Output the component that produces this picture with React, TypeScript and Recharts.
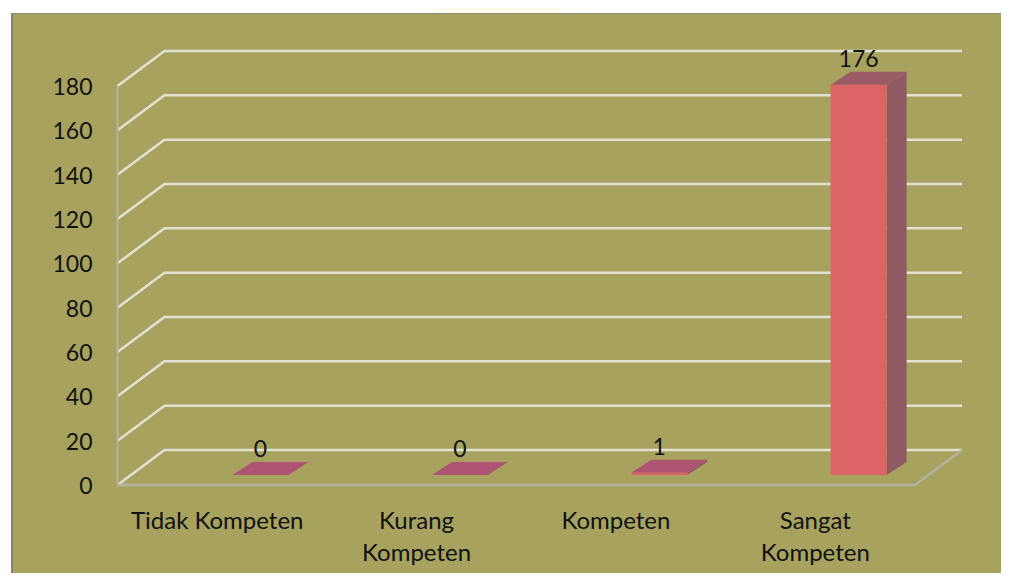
import { BarChart, Bar, XAxis, YAxis, CartesianGrid } from "recharts";

// kompetensi distribution
const categories = ["Tidak Kompeten", "Kurang Kompeten", "Kompeten", "Sangat Kompeten"];
const tickLines = [["Tidak Kompeten"], ["Kurang", "Kompeten"], ["Kompeten"], ["Sangat", "Kompeten"]];
const counts = [0, 0, 1, 176];
const yTicks = [0, 20, 40, 60, 80, 100, 120, 140, 160, 180];

const data = categories.map((name, i) => ({ name, value: counts[i], lines: tickLines[i] }));

const W = 1009;
const H = 581;
const FONT = "Lato, 'Open Sans', sans-serif";
const INK = "#111111";

// perspective offsets (back wall + bar depth)
const WALL_DX = 47;
const WALL_DY = -35;
const BAR_SHIFT_X = 43;
const BAR_SHIFT_Y = -10;
const BAR_DX = 20;
const BAR_DY = -13;

const GRID = "#e4e1d2";
const FLOOR = "#b3b39f";

function WallLine(props: any) {
  const { x1, x2, y1, index } = props;
  const bx = x1 + WALL_DX;
  const by = y1 + WALL_DY;
  return (
    <g key={`wall-${index}`}>
      <polyline
        points={`${x1},${y1} ${bx},${by} ${x2 + WALL_DX},${by}`}
        fill="none"
        stroke={GRID}
        strokeWidth={2.5}
      />
      {index === 0 && (
        <line x1={x2} y1={y1} x2={x2 + WALL_DX} y2={by} stroke={FLOOR} strokeWidth={2.5} />
      )}
    </g>
  );
}

function Box3D(props: any) {
  const { x, y, width, height, value } = props;
  const fx = x + BAR_SHIFT_X;
  const fy = y + BAR_SHIFT_Y;
  const h = Math.max(height || 0, 0);
  const base = fy + h;
  return (
    <g>
      <path
        d={`M${fx + width},${fy} L${fx + width + BAR_DX},${fy + BAR_DY} L${fx + width + BAR_DX},${base + BAR_DY} L${fx + width},${base} Z`}
        fill="#8f5b63"
      />
      <path
        d={`M${fx},${fy} L${fx + BAR_DX},${fy + BAR_DY} L${fx + width + BAR_DX},${fy + BAR_DY} L${fx + width},${fy} Z`}
        fill={h > 5 ? "#9a5a66" : "#ad5472"}
      />
      <rect x={fx} y={fy} width={width} height={h} fill="#dd6466" />
      <text
        x={fx + width / 2}
        y={fy + BAR_DY - 14}
        textAnchor="middle"
        dominantBaseline="central"
        fontSize={23}
        fontFamily={FONT}
        fill={INK}
      >
        {value}
      </text>
    </g>
  );
}

function YTick(props: any) {
  const { x, y, payload } = props;
  return (
    <text x={x} y={y} textAnchor="end" dominantBaseline="central" fontSize={23} fontFamily={FONT} fill={INK}>
      {payload.value}
    </text>
  );
}

function XTick(props: any) {
  const { x, y, index } = props;
  const lines = tickLines[index] || [];
  return (
    <text textAnchor="middle" fontSize={24} fontFamily={FONT} fill={INK}>
      {lines.map((l, i) => (
        <tspan key={i} x={x} y={y + 34 + i * 32} dominantBaseline="central">
          {l}
        </tspan>
      ))}
    </text>
  );
}

export default function App() {
  return (
    <div style={{ margin: -8, width: W, height: H, position: "relative", background: "#fff", overflow: "hidden" }}>
      <div
        style={{
          position: "absolute",
          left: 380,
          top: -30,
          width: 240,
          height: 50,
          background: "radial-gradient(ellipse at center, #f3f6c2 0%, rgba(255,255,255,0) 70%)",
        }}
      />
      <div
        style={{
          position: "absolute",
          left: 11,
          top: 13,
          width: W - 11,
          height: H - 13,
          background: "#a7a35f",
          borderLeft: "2px solid #85836c",
          borderTop: "1px solid #8f8d74",
          boxSizing: "border-box",
        }}
      />
      <div style={{ position: "absolute", left: 0, top: 0 }}>
        <BarChart width={W} height={H} data={data} margin={{ top: 86, right: 94, bottom: 0, left: 0 }}>
          <CartesianGrid vertical={false} horizontal={WallLine} />
          <XAxis
            dataKey="name"
            height={96}
            tickLine={false}
            tickSize={0}
            tickMargin={0}
            axisLine={{ stroke: FLOOR, strokeWidth: 2.5 }}
            tick={<XTick />}
            interval={0}
          />
          <YAxis
            width={117.5}
            domain={[0, 180]}
            ticks={yTicks}
            tickLine={false}
            tickSize={0}
            tickMargin={25}
            axisLine={{ stroke: FLOOR, strokeWidth: 2 }}
            tick={<YTick />}
          />
          <Bar dataKey="value" barSize={56} shape={<Box3D />} isAnimationActive={false} />
        </BarChart>
      </div>
    </div>
  );
}
